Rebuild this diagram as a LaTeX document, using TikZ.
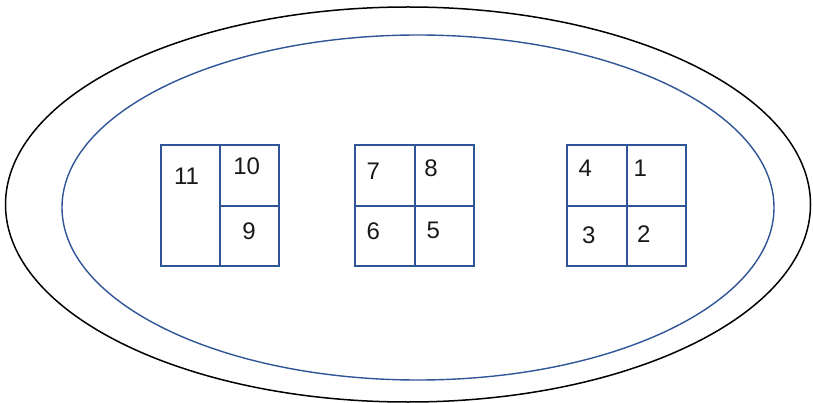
\documentclass[tikz,border=0pt]{standalone}
\usepackage{fontspec}
\setmainfont{Liberation Sans}
\definecolor{boxblue}{RGB}{47,85,151}
\begin{document}
\begin{tikzpicture}[x=1pt,y=-1pt,
  cell/.style={draw=boxblue,line width=2pt,inner sep=0pt,anchor=north west},
  num/.style={font=\fontsize{24}{26}\selectfont,inner sep=0pt,text=black!90}]
\useasboundingbox (0,0) rectangle (813,403);
\draw[black,line width=1.5pt] (408,204.5) ellipse [x radius=402.5, y radius=197.5];
\draw[boxblue,line width=1.4pt] (418,207.5) ellipse [x radius=356, y radius=172.5];
% group 1
\node[cell,minimum width=59pt,minimum height=121pt] (c11) at (160,144.3) {};
\node[cell,minimum width=59.3pt,minimum height=60.7pt] (c10) at (219,144.3) {};
\node[cell,minimum width=59.3pt,minimum height=60.3pt] (c9) at (219,205) {};
% group 2
\node[cell,minimum width=60pt,minimum height=60.7pt] (c7) at (354.3,144.3) {};
\node[cell,minimum width=59pt,minimum height=60.7pt] (c8) at (414.3,144.3) {};
\node[cell,minimum width=60pt,minimum height=60.3pt] (c6) at (354.3,205) {};
\node[cell,minimum width=59pt,minimum height=60.3pt] (c5) at (414.3,205) {};
% group 3
\node[cell,minimum width=60pt,minimum height=60.7pt] (c4) at (566.3,144.3) {};
\node[cell,minimum width=59pt,minimum height=60.7pt] (c1) at (626.3,144.3) {};
\node[cell,minimum width=60pt,minimum height=60.3pt] (c3) at (566.3,205) {};
\node[cell,minimum width=59pt,minimum height=60.3pt] (c2) at (626.3,205) {};
% labels
\node[num] (t11) at (186.5,176) {11};
\node[num] (t10) at (246.7,166) {10};
\node[num] (t9) at (249,231.7) {9};
\node[num] (t7) at (373.3,171.7) {7};
\node[num] (t8) at (431,168.3) {8};
\node[num] (t6) at (373.3,231.7) {6};
\node[num] (t5) at (433.3,230) {5};
\node[num] (t4) at (585.3,168.3) {4};
\node[num] (t1) at (640.3,168.3) {1};
\node[num] (t3) at (588.7,235) {3};
\node[num] (t2) at (643.7,234.3) {2};
\end{tikzpicture}
\end{document}
